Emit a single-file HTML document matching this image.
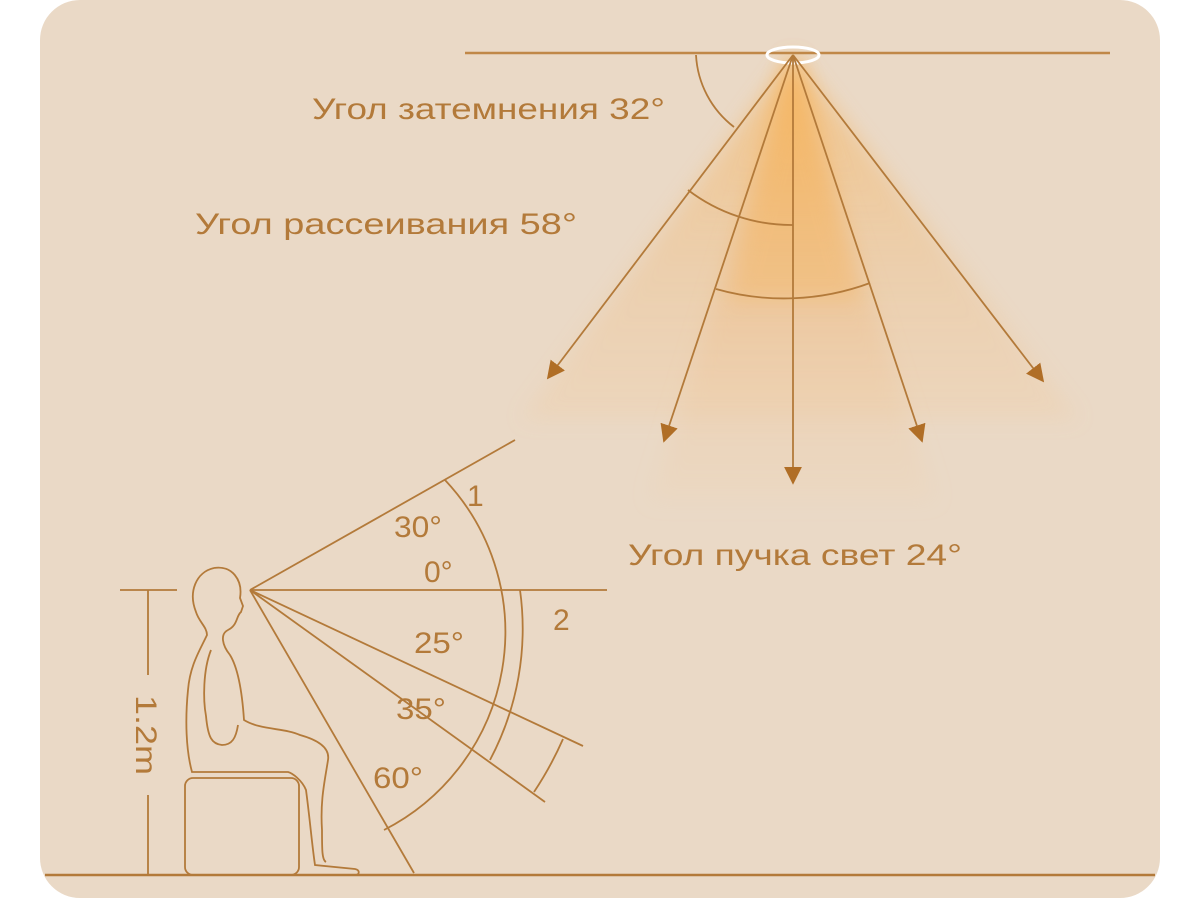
<!DOCTYPE html>
<html><head><meta charset="utf-8"><style>
html,body{margin:0;padding:0;background:#fff;}
svg{display:block}
text{font-family:"Liberation Sans","DejaVu Sans",sans-serif;fill:#b37a3a;}
</style></head><body>
<svg width="1200" height="900" viewBox="0 0 1200 900" xmlns="http://www.w3.org/2000/svg">
<defs>
<linearGradient id="beam" x1="0" y1="55" x2="0" y2="500" gradientUnits="userSpaceOnUse">
<stop offset="0" stop-color="#f7b865" stop-opacity="0.95"/>
<stop offset="0.5" stop-color="#efc089" stop-opacity="0.55"/>
<stop offset="1" stop-color="#f2d3b0" stop-opacity="0.3"/>
</linearGradient>
<linearGradient id="beam2" x1="0" y1="55" x2="0" y2="500" gradientUnits="userSpaceOnUse">
<stop offset="0" stop-color="#f6b45c" stop-opacity="0.9"/>
<stop offset="0.6" stop-color="#eebf8c" stop-opacity="0.4"/>
<stop offset="1" stop-color="#f0d2b0" stop-opacity="0.2"/>
</linearGradient>
<filter id="blur"><feGaussianBlur stdDeviation="10"/></filter>
<marker id="ar" viewBox="0 0 10 10" refX="9" refY="5" markerWidth="18" markerHeight="18" markerUnits="userSpaceOnUse" orient="auto"><path d="M0,0 L10,5 L0,10 z" fill="#b06e26"/></marker>
</defs>
<rect x="40" y="0" width="1120" height="898" rx="40" fill="#ead9c6"/>
<polygon points="793,55 520,420 1080,420" fill="url(#beam)" filter="url(#blur)" opacity="0.7"/>
<polygon points="793,55 650,500 935,500" fill="url(#beam2)" filter="url(#blur)"/>
<polygon points="793,55 730,300 860,300" fill="#f6b55e" opacity="0.35" filter="url(#blur)"/>
<line x1="465" y1="53" x2="1110" y2="53" stroke-width="2.5" stroke="#c08848"/>
<ellipse cx="793" cy="55" rx="26" ry="8" fill="none" stroke="#fff" stroke-width="3"/>
<g stroke="#b37a3a" fill="none" stroke-width="1.8">
<path d="M696,55 A97,97 0 0 0 734,127"/>
<path d="M688,190 A170,170 0 0 0 793,225"/>
<path d="M716,289 A248,248 0 0 0 870,283"/>
<line x1="793" y1="55" x2="548" y2="378" marker-end="url(#ar)"/>
<line x1="793" y1="55" x2="664" y2="441" marker-end="url(#ar)"/>
<line x1="793" y1="55" x2="793" y2="483" marker-end="url(#ar)"/>
<line x1="793" y1="55" x2="922" y2="441" marker-end="url(#ar)"/>
<line x1="793" y1="55" x2="1043" y2="381" marker-end="url(#ar)"/>
<line x1="250" y1="590" x2="515" y2="440"/>
<line x1="250" y1="590" x2="607" y2="590"/>
<line x1="250" y1="590" x2="583" y2="746"/>
<line x1="250" y1="590" x2="545" y2="802"/>
<line x1="250" y1="590" x2="414" y2="873"/>
<path d="M445,480 A222,222 0 0 1 384,830"/>
<path d="M520,590 A280,280 0 0 1 490,760"/>
<path d="M563,739 A348,348 0 0 1 534,792"/>
<line x1="120" y1="590" x2="177" y2="590"/>
<line x1="148" y1="590" x2="148" y2="675"/>
<line x1="148" y1="795" x2="148" y2="875"/>
<line x1="45" y1="875" x2="1155" y2="875" stroke-width="2.5"/>
<path d="M214,568 C196,572 188,592 196,612 C199,622 207,627 207,635 C200,650 190,665 188,690 C185,720 186,750 192,772 L288,772 C292,773 302,780 306,790 C310,820 312,845 315,865 L355,869 C360,870 360,875 355,875 L320,875"/>
<path d="M214,568 C232,565 243,580 240,598 L243,606 L241,612 C236,616 238,625 228,630 C220,634 222,645 230,655 C238,668 242,690 244,720 C260,730 285,728 300,735 C318,740 330,748 328,760 C325,780 320,800 322,830 C322,850 322,860 326,862"/>
<path d="M211,650 C203,670 203,700 206,716 C208,738 212,744 222,745 C232,745 236,738 238,725"/>
<rect x="185" y="778" width="114" height="97" rx="8"/>
</g>
<g font-size="30">
<text x="312" y="119" textLength="353" lengthAdjust="spacingAndGlyphs">Угол затемнения 32°</text>
<text x="195" y="234" textLength="382" lengthAdjust="spacingAndGlyphs">Угол рассеивания 58°</text>
<text x="628" y="565" textLength="334" lengthAdjust="spacingAndGlyphs">Угол пучка свет 24°</text>
</g>
<g font-size="30">
<text x="467" y="506">1</text>
<text x="394" y="537" textLength="48" lengthAdjust="spacingAndGlyphs">30°</text>
<text x="424" y="582">0°</text>
<text x="553" y="630">2</text>
<text x="414" y="653" textLength="50" lengthAdjust="spacingAndGlyphs">25°</text>
<text x="396" y="719" textLength="50" lengthAdjust="spacingAndGlyphs">35°</text>
<text x="373" y="788" textLength="50" lengthAdjust="spacingAndGlyphs">60°</text>
<text transform="translate(136,695) rotate(90)" textLength="80" lengthAdjust="spacingAndGlyphs">1.2m</text>
</g>
</svg>
</body></html>
